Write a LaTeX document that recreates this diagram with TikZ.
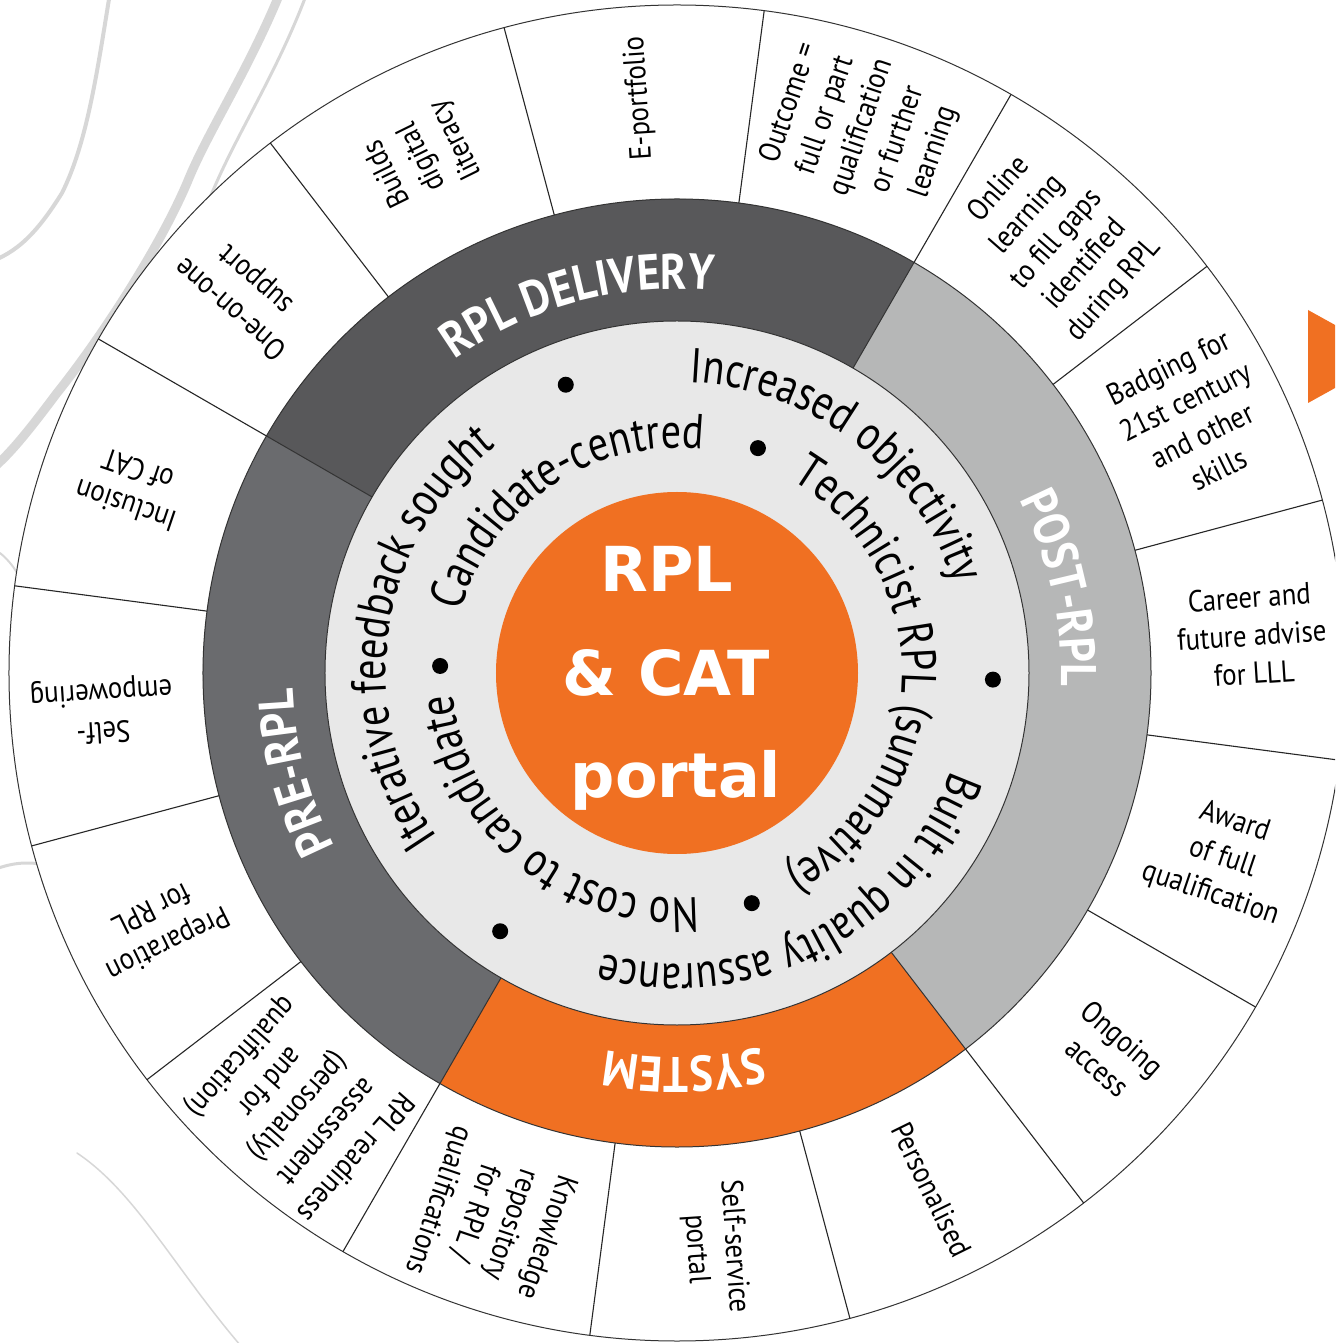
\documentclass[tikz,border=0pt]{standalone}
\usepackage{fontspec}
\usetikzlibrary{decorations.text}
\newfontfamily\lblfont[FakeStretch=0.88]{PT Sans}
\newfontfamily\ringfontfam[FakeStretch=0.82]{PT Sans}
\newfontfamily\ctrfont{DejaVu Sans}
\definecolor{rplorange}{HTML}{F07022}
\definecolor{deliverygray}{HTML}{58585A}
\definecolor{pregray}{HTML}{6A6B6E}
\definecolor{postgray}{HTML}{B6B7B7}
\definecolor{ringgray}{HTML}{E8E8E8}
\definecolor{smoke}{HTML}{A8A8A8}
\newcommand\ringtxt{\ringfontfam\fontsize{49}{49}\selectfont}
\newcommand\bandtxt{\lblfont\bfseries\fontsize{50}{50}\selectfont}
\tikzset{
  outerlbl/.style={font=\lblfont\fontsize{30.5}{38}\selectfont, align=center, inner sep=0pt},
  ctrlbl/.style={font=\ctrfont\bfseries\fontsize{62}{62}\selectfont, text=white, anchor=base, inner sep=0pt},
  bulletdot/.style={circle, fill=black, minimum size=16pt, inner sep=0pt},
  ringline/.style={draw=black!80, line width=1pt},
  segline/.style={draw=black!85, line width=1.1pt},
  smokeline/.style={draw=smoke, line cap=round, opacity=0.45},
  bandtext/.style={decorate, decoration={text along path, text align=center, text color=white, text={|\bandtxt|#1}}},
  ringtext/.style={decorate, decoration={text along path, text align=center, text color=black, text={|\ringtxt|#1}}}
}
\begin{document}
\begin{tikzpicture}[x=1pt,y=1pt]
\useasboundingbox (-677pt,-670pt) rectangle (658pt,673pt);
\clip (-677pt,-670pt) rectangle (658pt,673pt);
\fill[white] (-677pt,-670pt) rectangle (658pt,673pt);
% smoke in the background
\draw[smokeline, line width=9pt] (-397,680) .. controls (-430,600) and (-470,540) .. (-490,490) .. controls (-520,420) and (-580,330) .. (-620,280) .. controls (-650,240) and (-670,215) .. (-690,200);
\draw[smokeline, line width=3pt] (-370,680) .. controls (-400,600) and (-440,540) .. (-465,480) .. controls (-495,420) and (-560,330) .. (-600,290);
\draw[smokeline, line width=4pt] (-567,680) .. controls (-580,600) and (-590,530) .. (-615,480) .. controls (-640,440) and (-660,420) .. (-690,410);
\draw[smokeline, line width=2pt] (-677,120) .. controls (-640,90) and (-650,40) .. (-620,0);
\draw[smokeline, line width=3pt] (-690,-200) .. controls (-650,-180) and (-610,-190) .. (-560,-230);
\draw[smokeline, line width=1.5pt] (-600,-480) .. controls (-540,-520) and (-500,-600) .. (-430,-680);
% outer ring
\fill[white] (0,0) circle[radius=668pt];
% bands
\fill[deliverygray] (60:352pt) arc[start angle=60,end angle=150,radius=352pt] -- (150:474pt) arc[start angle=150,end angle=60,radius=474pt] -- cycle;
\fill[pregray] (150:352pt) arc[start angle=150,end angle=240,radius=352pt] -- (240:474pt) arc[start angle=240,end angle=150,radius=474pt] -- cycle;
\fill[rplorange] (240:352pt) arc[start angle=240,end angle=307.5,radius=352pt] -- (307.5:474pt) arc[start angle=307.5,end angle=240,radius=474pt] -- cycle;
\fill[postgray] (-52.5:352pt) arc[start angle=-52.5,end angle=60,radius=352pt] -- (60:474pt) arc[start angle=60,end angle=-52.5,radius=474pt] -- cycle;
% inner ring and centre
\fill[ringgray] (0,0) circle[radius=352pt];
\fill[rplorange] (0,0) circle[radius=181pt];
% outlines
\draw[ringline] (0,0) circle[radius=352pt];
\draw[ringline] (0,0) circle[radius=474pt];
\draw[ringline] (0,0) circle[radius=668pt];
\foreach \a in {60,150,240,307.5} \draw[ringline] (\a:352pt) -- (\a:474pt);
\foreach \k in {0,...,15} \draw[segline] ({15+22.5*\k}:474pt) -- ({15+22.5*\k}:668pt);
% band labels
\path[bandtext={RPL DELIVERY}] (175:384pt) arc[start angle=175,end angle=35,radius=384pt];
\path[bandtext={POST-RPL}] (82.5:384pt) arc[start angle=82.5,end angle=-57.5,radius=384pt];
\path[bandtext={SYSTEM}] (-19:384pt) arc[start angle=-19,end angle=-159,radius=384pt];
\path[bandtext={PRE-RPL}] (264.5:384pt) arc[start angle=264.5,end angle=124.5,radius=384pt];
% inner ring texts
\path[ringtext={Increased objectivity}] (122.6:291pt) arc[start angle=122.6,end angle=-17.4,radius=291pt];
\path[ringtext={Built in quality assurance}] (7.7:291pt) arc[start angle=7.7,end angle=-132.3,radius=291pt];
\path[ringtext={Iterative feedback sought}] (241.5:291pt) arc[start angle=241.5,end angle=101.5,radius=291pt];
\path[ringtext={Candidate-centred}] (193.7:225pt) arc[start angle=193.7,end angle=53.7,radius=225pt];
\path[ringtext={Technicist RPL (summative)}] (79:225pt) arc[start angle=79,end angle=-81,radius=225pt];
\path[ringtext={No cost to candidate}] (-49.6:225pt) arc[start angle=-49.6,end angle=-209.6,radius=225pt];
% bullets
\node[bulletdot] (b1) at (111.1:309pt) {};
\node[bulletdot] (b2) at (70.2:239pt) {};
\node[bulletdot] (b3) at (-1.2:316pt) {};
\node[bulletdot] (b4) at (-72:242pt) {};
\node[bulletdot] (b5) at (-124.4:313pt) {};
\node[bulletdot] (b6) at (178.3:237pt) {};
% centre text
\node[ctrlbl] (c1) at (-10pt,81.5pt) {RPL};
\node[ctrlbl] (c2) at (-11pt,-22.6pt) {\& CAT};
\node[ctrlbl] (c3) at (-1pt,-124pt) {portal};
% outer labels
\foreach \ang/\txt [count=\i] in {
  3.75/{Career and\\future advise\\for LLL},
  26.25/{Badging for\\21st century\\and other\\skills},
  48.75/{Online\\learning\\to fill gaps\\identified\\during RPL},
  71.25/{Outcome =\\full or part\\qualification\\or further\\learning},
  93.75/{E-portfolio},
  116.25/{Builds\\digital\\literacy},
  138.75/{One-on-one\\support},
  161.25/{Inclusion\\of CAT},
  183.75/{Self-\\empowering},
  206.25/{Preparation\\for RPL},
  228.75/{RPL readiness\\assessment\\(personally)\\and for\\qualification)},
  251.25/{Knowledge\\repository\\for RPL /\\qualifications},
  273.75/{Self-service\\portal},
  296.25/{Personalised},
  318.75/{Ongoing\\access},
  341.25/{Award\\of full\\qualification}}
  \node[outerlbl, rotate=\ang] (seg\i) at (\ang:576pt) {\txt};
% arrow at right edge
\coordinate (ar1) at (631pt,363pt);
\coordinate (ar2) at (631pt,270pt);
\coordinate (ar3) at (715pt,316.5pt);
\fill[rplorange] (ar1) -- (ar3) -- (ar2) -- cycle;
\end{tikzpicture}
\end{document}
